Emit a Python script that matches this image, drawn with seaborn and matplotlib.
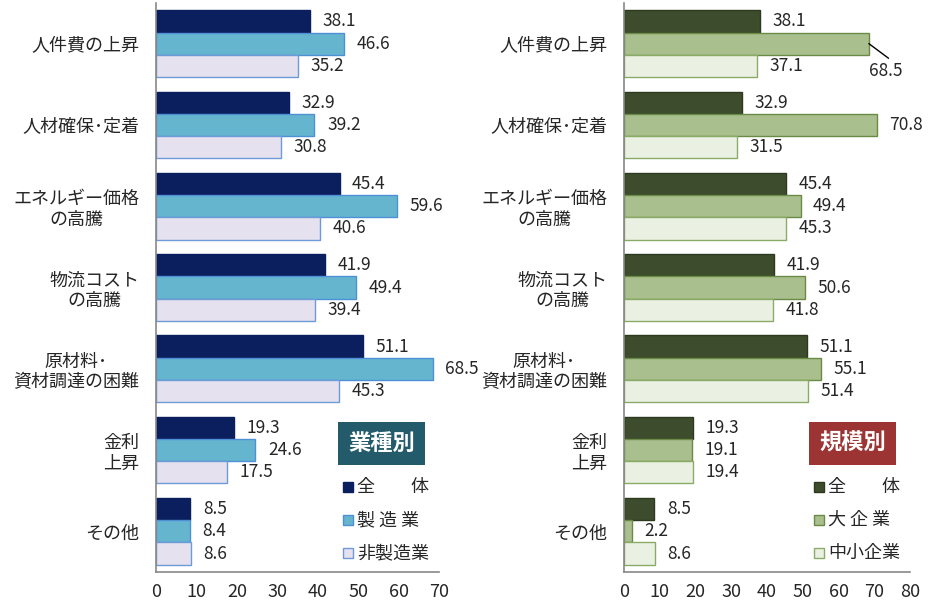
import matplotlib
matplotlib.use("Agg")
import matplotlib.pyplot as plt
import seaborn as sns
import pandas as pd
from matplotlib.patches import Rectangle

sns.set_theme(style="white")
plt.rcParams['font.family'] = ['Noto Sans CJK JP', 'DejaVu Sans']

categories = ["人件費の上昇", "人材確保･定着", "エネルギー価格\nの高騰", "物流コスト\nの高騰",
              "原材料･\n資材調達の困難", "金利\n上昇", "その他"]
left_series = ["全　　体", "製 造 業", "非製造業"]
right_series = ["全　　体", "大 企 業", "中小企業"]
all_firms = [38.1, 32.9, 45.4, 41.9, 51.1, 19.3, 8.5]
manufacturing = [46.6, 39.2, 59.6, 49.4, 68.5, 24.6, 8.4]
non_manufacturing = [35.2, 30.8, 40.6, 39.4, 45.3, 17.5, 8.6]
large = [68.5, 70.8, 49.4, 50.6, 55.1, 19.1, 2.2]
sme = [37.1, 31.5, 45.3, 41.8, 51.4, 19.4, 8.6]

left_fill = ["#0b1f5e", "#65b5cf", "#e5e1ee"]
left_edge = ["#0b1f5e", "#4f8fd6", "#6e9ad8"]
right_fill = ["#3c4c2c", "#a9bf8d", "#eaf1e3"]
right_edge = ["#2e3a20", "#6b8a46", "#8aab66"]


def long_df(series_names, values):
    rows = []
    for name, vals in zip(series_names, values):
        for c, v in zip(categories, vals):
            rows.append({"cat": c, "series": name, "value": v})
    return pd.DataFrame(rows)


fig = plt.figure(figsize=(9.34, 6.09), dpi=100)
W, H = 934, 609
axL = fig.add_axes([156 / W, 1 - 572 / H, 283 / W, 569 / H])
axR = fig.add_axes([624 / W, 1 - 572 / H, 286 / W, 569 / H])


def draw(ax, names, values, fills, edges, xmax, special=None):
    df = long_df(names, values)
    sns.barplot(data=df, y="cat", x="value", hue="series", orient="h",
                palette=fills, width=0.82, legend=False, ax=ax, saturation=1)
    for i, cont in enumerate(ax.containers):
        for b in cont:
            b.set_edgecolor(edges[i])
            b.set_linewidth(1.0)
    for i, cont in enumerate(ax.containers):
        for j, b in enumerate(cont):
            v = values[i][j]
            yc = b.get_y() + b.get_height() / 2
            if special is not None and (i, j) == special:
                x0 = b.get_width()
                ax.plot([x0, x0 + 5.5], [yc, yc + 0.18], color="black", lw=1.0,
                        clip_on=False)
                ax.annotate(f"{v:.1f}", xy=(x0 + 5.5, yc + 0.34), xytext=(-14, 0),
                            textcoords="offset points", ha="left", va="center",
                            fontsize=12.5, annotation_clip=False)
                continue
            ax.annotate(f"{v:.1f}", xy=(b.get_width(), yc), xytext=(9, 0),
                        textcoords="offset points", ha="left", va="center",
                        fontsize=12.5, annotation_clip=False)
    ax.set_xlim(0, xmax)
    ax.set_ylim(6.5, -0.5)
    ax.set_xticks(range(0, xmax + 1, 10))
    ax.set_xlabel("")
    ax.set_ylabel("")
    ax.set_yticks(range(len(categories)))
    ax.set_yticklabels(categories, fontsize=13, multialignment="center")
    ax.set_yticks([k - 0.5 for k in range(len(categories) + 1)], minor=True)
    ax.tick_params(axis="y", which="major", length=0, pad=12)
    ax.tick_params(axis="y", which="minor", length=5, direction="out", color="#888888", width=1)
    ax.tick_params(axis="x", which="major", length=5, direction="in", color="#888888",
                   width=1, labelsize=13, pad=8)
    for s in ["top", "right"]:
        ax.spines[s].set_visible(False)
    for s in ["left", "bottom"]:
        ax.spines[s].set_color("#888888")
        ax.spines[s].set_linewidth(1.2)


draw(axL, left_series, [all_firms, manufacturing, non_manufacturing], left_fill, left_edge, 70)
draw(axR, right_series, [all_firms, large, sme], right_fill, right_edge, 80, special=(1, 0))


def legend(title, color, x0, names, fills, edges):
    fig.text((x0 + 8) / W, 1 - 443 / H, title, fontsize=16, color="white", fontweight="bold",
             ha="left", va="center",
             bbox=dict(boxstyle="square,pad=0.45", fc=color, ec="none"))
    for k, (n, f, e) in enumerate(zip(names, fills, edges)):
        yc = 487 + k * 33
        fig.patches.append(Rectangle(((x0 + 3) / W, 1 - (yc + 5) / H), 10 / W, 10 / H,
                                     transform=fig.transFigure, fc=f, ec=e, lw=1))
        fig.text((x0 + 17) / W, 1 - yc / H, n, fontsize=13, ha="left", va="center")


legend("業種別", "#235b6b", 340, left_series, left_fill, left_edge)
legend("規模別", "#9c3434", 811, right_series, right_fill, right_edge)

fig.savefig("out.png", dpi=100)
